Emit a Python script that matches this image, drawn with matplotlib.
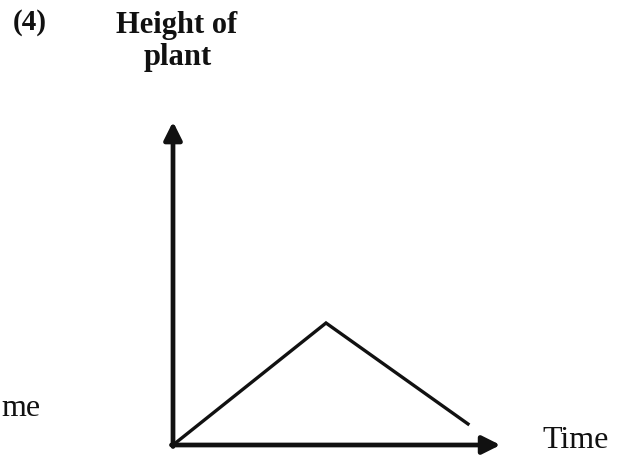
import matplotlib.pyplot as plt

# Growth curve: height rises, peaks, then falls back
time = [0, 5, 9.64]
height = [0, 4, 0.69]

axis_end = 10.6

fig = plt.figure(figsize=(6.26, 4.57), dpi=100)
W, H = 626, 457

# axes placed so the origin sits at the lower left corner of the sketch
x0, y0 = 173, 445
unit_x, unit_y = 30.6, 30.5
ax = fig.add_axes([x0 / W, (H - y0) / H, 11 * unit_x / W, 11 * unit_y / H])
ax.set_xlim(0, 11)
ax.set_ylim(0, 11)
ax.axis('off')

# axis arrows
arrow = dict(arrowstyle='-|>', color='#111111', lw=3.4, mutation_scale=27,
             shrinkA=0, shrinkB=0)
ax.annotate('', xy=(0, axis_end), xytext=(0, -0.05), arrowprops=arrow,
            annotation_clip=False)
ax.annotate('', xy=(axis_end + 0.1, 0), xytext=(-0.05, 0), arrowprops=arrow,
            annotation_clip=False)

ax.plot(time, height, color='#111111', lw=2.4, solid_joinstyle='miter',
        clip_on=False)

serif = 'Liberation Serif'
fig.text(13 / W, 1 - 23 / H, '(4)', family=serif, fontweight='bold',
         fontsize=21, va='center', ha='left', color='#111111')
fig.text(177 / W, 1 - 26 / H, 'Height of', family=serif, fontweight='bold',
         fontsize=22, va='center', ha='center', color='#111111')
fig.text(178 / W, 1 - 58 / H, 'plant', family=serif, fontweight='bold',
         fontsize=22, va='center', ha='center', color='#111111')
fig.text(542 / W, 1 - 441 / H, 'Time', family=serif,
         fontsize=23, va='center', ha='left', color='#111111')
fig.text(1 / W, 1 - 409 / H, 'me', family=serif,
         fontsize=23, va='center', ha='left', color='#111111')

fig.savefig('out.png', dpi=100)
